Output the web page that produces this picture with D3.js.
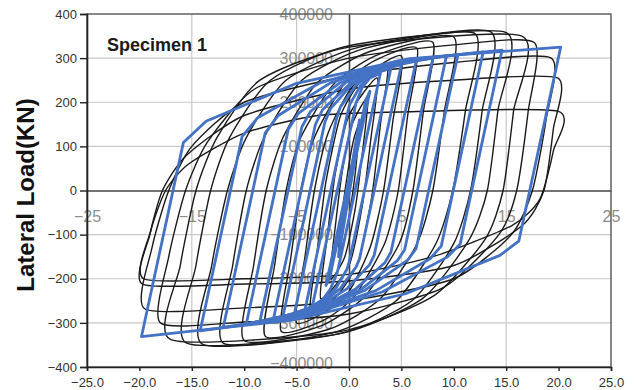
<!DOCTYPE html>
<html lang="en">
<head>
  <meta charset="UTF-8" />
  <title>Specimen 1 hysteresis</title>
  <script src="https://d3js.org/d3.v7.min.js"></script>
  <style>
    html, body { margin: 0; padding: 0; background: #fff; }
    svg { display: block; font-family: "Liberation Sans", Arial, sans-serif; }
  </style>
</head>
<body>
<svg id="chart" width="638" height="390"></svg>
<script>
  // ---------------------------------------------------------
  // Data
  // ---------------------------------------------------------
  const dispTicks = [-25, -20, -15, -10, -5, 0, 5, 10, 15, 20, 25];
  const loadTicks = [-400, -300, -200, -100, 0, 100, 200, 300, 400];
  const overlayXTicks = [-25, -15, -5, 5, 15, 25];
  const overlayYTicks = [-400000, -300000, -200000, -100000, 100000, 200000, 300000, 400000];

  // test loops (black), [displacement, load]
  const testLoops = [
    [[-1.0,-140],[-0.6,-40],[0.0,60],[0.5,120],[1.0,150],[0.6,40],[0.0,-60],[-0.5,-115]],
    [[-1.8,-200],[-1.3,-80],[-0.6,50],[0.3,150],[1.8,210],[1.3,90],[0.6,-40],[-0.4,-150]],
    [[-2.7,-245],[-2.1,-110],[-1.3,40],[0.0,170],[2.7,255],[2.1,120],[1.3,-30],[0.0,-170]],
    [[-3.7,-275],[-3.0,-130],[-2.2,20],[-0.8,170],[1.2,250],[3.7,285],[3.0,150],[2.2,-10],[0.9,-160],[-1.2,-240]],
    [[-5.0,-300],[-4.2,-150],[-3.3,0],[-2.0,130],[0.5,240],[5.0,305],[4.2,160],[3.3,0],[2.0,-130],[-0.5,-245]],
    [[-6.5,-318],[-5.6,-160],[-4.6,0],[-3.3,120],[-0.5,240],[2.5,295],[6.5,322],[5.6,170],[4.7,0],[3.4,-120],[0.5,-240],[-2.5,-295]],
    [[-8.0,-330],[-7.1,-170],[-6.0,0],[-4.6,120],[-1.5,240],[2.5,305],[8.0,336],[7.1,180],[6.1,0],[4.8,-120],[1.5,-240],[-2.5,-305]],
    [[-10.0,-340],[-9.1,-170],[-7.9,0],[-6.3,120],[-3.0,245],[2.0,315],[10.0,348],[9.1,180],[8.0,0],[6.5,-120],[3.0,-245],[-2.0,-315]],
    [[-12.0,-346],[-11.1,-170],[-9.8,0],[-8.1,120],[-4.5,250],[1.5,322],[12.0,356],[11.1,180],[9.9,0],[8.3,-120],[4.5,-250],[-1.5,-322]],
    [[-14.0,-348],[-13.1,-170],[-11.6,0],[-9.8,120],[-6.0,250],[1.0,325],[13.5,360],[12.7,180],[11.6,0],[10.0,-120],[6.0,-250],[-1.0,-325]],
    [[-15.5,-346],[-14.6,-170],[-13.2,0],[-11.4,120],[-7.5,250],[0.0,328],[15.0,358],[14.2,180],[13.2,0],[11.5,-110],[7.0,-245],[-1.0,-325]],
    [[-17.0,-338],[-16.1,-170],[-14.6,0],[-12.6,120],[-8.5,250],[0.0,325],[16.5,350],[15.7,180],[14.7,0],[13.0,-110],[8.0,-240],[-1.0,-320]],
    [[-18.0,-300],[-17.2,-150],[-15.6,0],[-13.5,110],[-9.0,230],[0.0,300],[10.0,330],[17.7,335],[17.1,180],[16.0,0],[14.3,-100],[9.0,-220],[0.0,-280],[-10.0,-298]],
    [[-19.5,-268],[-18.8,-130],[-17.2,0],[-15.0,100],[-10.0,200],[0.0,260],[10.0,290],[19.3,300],[18.8,160],[17.5,0],[15.5,-100],[10.0,-200],[0.0,-250],[-10.0,-266]],
    [[-19.7,-212],[-19.0,-100],[-17.8,0],[-15.5,80],[-10.0,170],[0.0,230],[10.0,250],[19.9,255],[19.5,140],[18.6,0],[16.5,-80],[10.0,-170],[0.0,-205],[-10.0,-212]],
    [[-19.6,-200],[-18.9,-90],[-17.5,0],[-15.3,60],[-10.0,130],[-3.0,170],[5.0,178],[19.9,180],[19.5,90],[18.2,-20],[15.5,-80],[8.0,-150],[0.0,-190],[-10.0,-200]]
  ];

  // model loops (blue), [displacement, load]
  const modelLoops = [
    [[-1.0,-150],[0.7,90],[1.0,160],[-0.7,-85]],
    [[-2.2,-215],[1.4,181],[1.6,205],[2.0,225],[-1.6,-171],[-1.8,-195]],
    [[-3.5,-262],[0.5,178],[0.65,197],[1.25,233],[2.0,255],[3.0,266],[-1.0,-174],[-1.13,-187],[-1.75,-222],[-2.5,-247]],
    [[-4.2,-270],[-0.2,170],[0.05,194],[1.06,236],[2.32,264],[4.0,277],[0.0,-163],[-0.21,-179],[-1.26,-222],[-2.52,-252]],
    [[-5.2,-278],[-1.2,162],[-0.83,189],[0.66,238],[2.52,270],[5.0,285],[1.0,-155],[0.69,-173],[-0.86,-223],[-2.72,-257]],
    [[-6.3,-285],[-2.3,155],[-1.78,185],[0.31,241],[2.92,276],[6.4,293],[2.4,-147],[1.97,-168],[-0.21,-223],[-2.82,-262]],
    [[-7.2,-290],[-3.2,150],[-2.53,183],[0.16,243],[3.52,282],[8.0,300],[4.0,-140],[3.44,-163],[0.64,-223],[-2.72,-265]],
    [[-8.5,-296],[-4.5,144],[-3.67,179],[-0.36,244],[3.78,286],[9.3,305],[5.3,-135],[4.61,-159],[1.16,-224],[-2.98,-269]],
    [[-9.8,-302],[-5.8,138],[-4.83,175],[-0.94,243],[3.92,288],[10.4,308],[6.4,-132],[5.59,-158],[1.54,-226],[-3.32,-273]],
    [[-12.0,-310],[-8.0,130],[-6.75,170],[-1.76,244],[4.48,292],[12.8,314],[8.8,-126],[7.76,-154],[2.56,-227],[-3.68,-279]],
    [[-14.2,-318],[-10.2,122],[-8.71,165],[-2.76,244],[4.68,294],[14.6,318],[10.6,-122],[9.36,-151],[3.16,-230],[-4.28,-285]],
    [[-19.8,-331],[-15.8,109],[-13.64,157],[-5.0,243],[5.8,299],[20.2,325],[16.2,-115],[14.4,-147],[5.4,-234],[-5.4,-294]]
  ];

  // ---------------------------------------------------------
  // Layout & scales
  // ---------------------------------------------------------
  const svg = d3.select("#chart");
  const plotLeft = 87, plotRight = 611, plotTop = 14, plotBottom = 367;

  const x = d3.scaleLinear().domain([-25, 25]).range([plotLeft, plotRight]);
  const y = d3.scaleLinear().domain([-400, 400]).range([plotBottom, plotTop]);
  // second (overlaid) chart shares the same box
  const xo = d3.scaleLinear().domain([-25, 25]).range([plotLeft, plotRight]);
  const yo = d3.scaleLinear().domain([-400000, 400000]).range([plotBottom, plotTop]);

  // gridlines
  const grid = svg.append("g").attr("stroke", "#c9c9c9").attr("stroke-width", 1.2);
  loadTicks.filter(v => v !== 0 && Math.abs(v) < 400).forEach(v => {
    grid.append("line").attr("x1", plotLeft).attr("x2", plotRight).attr("y1", y(v)).attr("y2", y(v));
  });
  overlayXTicks.filter(v => Math.abs(v) < 25).forEach(v => {
    grid.append("line").attr("x1", xo(v)).attr("x2", xo(v)).attr("y1", plotTop).attr("y2", plotBottom);
  });

  // overlay axes (through origin), grey labels under the curves
  const oy = svg.append("g")
    .attr("transform", `translate(${xo(0)},0)`)
    .call(d3.axisLeft(yo).tickValues(overlayYTicks).tickSize(0).tickPadding(16).tickFormat(d3.format("d")));
  const ox = svg.append("g")
    .attr("transform", `translate(0,${yo(0)})`)
    .call(d3.axisBottom(xo).tickValues(overlayXTicks).tickSize(0).tickPadding(20).tickFormat(d3.format("d")));
  [oy, ox].forEach(a => {
    a.select(".domain").attr("stroke", "#444").attr("stroke-width", 1.6);
    a.selectAll("text").attr("fill", "#8c8c8c").attr("font-size", 16);
  });
  // bottom overlay label sits a touch higher so it clears the axis numbers
  oy.selectAll(".tick text").filter(d => d === -400000).attr("dy", "0.1em");

  // frame
  svg.append("rect")
    .attr("x", plotLeft).attr("y", plotTop)
    .attr("width", plotRight - plotLeft).attr("height", plotBottom - plotTop)
    .attr("fill", "none").attr("stroke", "#555").attr("stroke-width", 1.4);

  // black test loops
  const testLine = d3.line()
    .x(d => x(d[0])).y(d => y(d[1]))
    .curve(d3.curveCardinalClosed.tension(0.35));
  svg.append("g").selectAll("path")
    .data(testLoops).join("path")
    .attr("d", testLine)
    .attr("fill", "none").attr("stroke", "#1a1a1a").attr("stroke-width", 1.4)
    .attr("stroke-linejoin", "round");

  // blue model loops
  const modelLine = d3.line()
    .x(d => x(d[0])).y(d => y(d[1]))
    .curve(d3.curveLinearClosed);
  svg.append("g").selectAll("path")
    .data(modelLoops).join("path")
    .attr("d", modelLine)
    .attr("fill", "none").attr("stroke", "#4472C4").attr("stroke-width", 2.8)
    .attr("stroke-linejoin", "round");

  // main axes
  const ax = svg.append("g")
    .attr("transform", `translate(0,${plotBottom})`)
    .call(d3.axisBottom(x).tickValues(dispTicks).tickSize(4).tickPadding(7).tickFormat(d3.format(".1f")));
  const ay = svg.append("g")
    .attr("transform", `translate(${plotLeft},0)`)
    .call(d3.axisLeft(y).tickValues(loadTicks).tickSize(7).tickPadding(3).tickFormat(d3.format("d")));
  [ax, ay].forEach(a => {
    a.select(".domain").attr("stroke", "#222").attr("stroke-width", 1.6);
    a.selectAll(".tick line").attr("stroke", "#222").attr("stroke-width", 1.4);
    a.selectAll("text").attr("fill", "#333").attr("font-size", 13);
  });

  // titles
  svg.append("text")
    .attr("x", 107).attr("y", 51)
    .attr("font-size", 18).attr("font-weight", "bold").attr("fill", "#1a1a1a")
    .text("Specimen 1");

  svg.append("text")
    .attr("transform", "translate(34,195) rotate(-90)")
    .attr("text-anchor", "middle")
    .attr("font-size", 24).attr("font-weight", "bold").attr("fill", "#111")
    .text("Lateral Load(KN)");
</script>
</body>
</html>
